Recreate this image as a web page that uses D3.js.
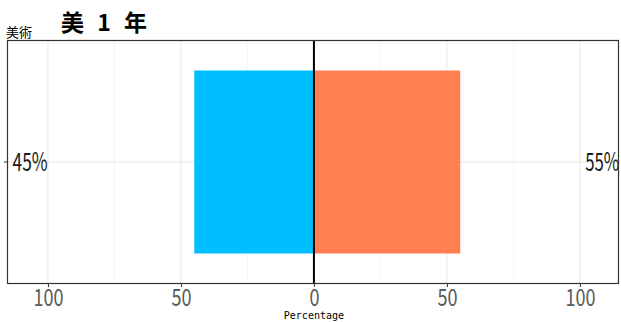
<!DOCTYPE html>
<html><head><meta charset="utf-8">
<script src="https://cdn.jsdelivr.net/npm/d3@7"></script>
<style>body{margin:0;background:#fff}svg{display:block}</style>
</head><body><svg id="c" width="621" height="322"></svg>
<script>
const title = "美 1 年";
const yTitle = "美術";
const xTitle = "Percentage";
const categories = ["美術"];
const leftValues = [45];   // blue, drawn to the left
const rightValues = [55];  // orange, drawn to the right
const xTicks = [-100, -50, 0, 50, 100];
const xMinor = [-75, -25, 25, 75];

const svg = d3.select("#c");
const W = 621, H = 322;
const m = {l: 7, r: 2, t: 40, b: 38};
const x = d3.scaleLinear().domain([-115.4, 114.7]).range([m.l, W - m.r]);
const y = d3.scaleBand().domain(categories).range([m.t, H - m.b]).paddingInner(0.1).paddingOuter(0.15);

const g = svg.append("g");
// grid
g.selectAll(".minor").data(xMinor).enter().append("line")
  .attr("x1", d => x(d)).attr("x2", d => x(d)).attr("y1", m.t).attr("y2", H - m.b)
  .attr("stroke", "#f0f0f0").attr("stroke-width", 0.6);
g.selectAll(".major").data(xTicks).enter().append("line")
  .attr("x1", d => x(d)).attr("x2", d => x(d)).attr("y1", m.t).attr("y2", H - m.b)
  .attr("stroke", "#e6e6e6").attr("stroke-width", 1);
g.selectAll(".hgrid").data(categories).enter().append("line")
  .attr("x1", m.l).attr("x2", W - m.r)
  .attr("y1", d => y(d) + y.bandwidth() / 2).attr("y2", d => y(d) + y.bandwidth() / 2)
  .attr("stroke", "#e6e6e6").attr("stroke-width", 1);

// bars
g.selectAll(".lb").data(categories).enter().append("rect")
  .attr("x", (d, i) => x(-leftValues[i])).attr("width", (d, i) => x(0) - x(-leftValues[i]))
  .attr("y", d => y(d)).attr("height", y.bandwidth()).attr("fill", "#00BFFF");
g.selectAll(".rb").data(categories).enter().append("rect")
  .attr("x", x(0)).attr("width", (d, i) => x(rightValues[i]) - x(0))
  .attr("y", d => y(d)).attr("height", y.bandwidth()).attr("fill", "#FF7F50");

// zero line
g.append("line").attr("x1", x(0)).attr("x2", x(0)).attr("y1", m.t).attr("y2", H - m.b)
  .attr("stroke", "#000").attr("stroke-width", 2);

// labels
const labFont = "'Liberation Sans Narrow','Noto Sans CJK JP',sans-serif";
g.selectAll(".ll").data(categories).enter().append("text")
  .attr("x", x(-113.3)).attr("y", d => y(d) + y.bandwidth() / 2 + 9)
  .attr("font-family", labFont).attr("font-size", 25).attr("fill", "#1a1a1a")
  .attr("textLength", 35).attr("lengthAdjust", "spacingAndGlyphs")
  .text((d, i) => leftValues[i] + "%");
g.selectAll(".rl").data(categories).enter().append("text")
  .attr("x", x(102.0)).attr("y", d => y(d) + y.bandwidth() / 2 + 9)
  .attr("font-family", labFont).attr("font-size", 25).attr("fill", "#1a1a1a")
  .attr("textLength", 34).attr("lengthAdjust", "spacingAndGlyphs")
  .text((d, i) => rightValues[i] + "%");

// panel border
svg.append("rect").attr("x", m.l + 0.5).attr("y", m.t + 0.5)
  .attr("width", W - m.r - m.l - 1).attr("height", H - m.b - m.t - 1)
  .attr("fill", "none").attr("stroke", "#333").attr("stroke-width", 1.2);

// x axis
const xa = svg.append("g").attr("transform", `translate(0,${H - m.b})`)
  .call(d3.axisBottom(x).tickValues(xTicks).tickFormat(d => Math.abs(d)).tickSize(3).tickPadding(3));
xa.select(".domain").remove();
xa.selectAll("line").attr("stroke", "#333");
xa.selectAll("text")
  .attr("y", 22).attr("dy", null)
  .attr("font-family", labFont).attr("font-size", 24).attr("fill", "#5a5a5a")
  .attr("textLength", d => String(Math.abs(d)).length * 10)
  .attr("lengthAdjust", "spacingAndGlyphs");

// y axis tick
const ya = svg.append("g").attr("transform", `translate(${m.l},0)`)
  .call(d3.axisLeft(y).tickSize(3).tickFormat(""));
ya.select(".domain").remove();
ya.selectAll("line").attr("stroke", "#333");

// titles
svg.append("text").attr("x", x(0)).attr("y", 319).attr("text-anchor", "middle")
  .attr("font-family", "'DejaVu Sans Mono',monospace").attr("font-size", 10).attr("fill", "#000")
  .text(xTitle);
svg.append("text").attr("x", 6).attr("y", 37)
  .attr("font-family", "'Noto Sans CJK JP',sans-serif").attr("font-size", 13).attr("fill", "#000")
  .text(yTitle);
svg.append("text").attr("x", 61).attr("y", 31)
  .attr("font-family", "'Noto Sans CJK JP',sans-serif").attr("font-weight", "bold").attr("font-size", 23)
  .attr("letter-spacing", 4).attr("fill", "#000")
  .text(title);
</script></body></html>
